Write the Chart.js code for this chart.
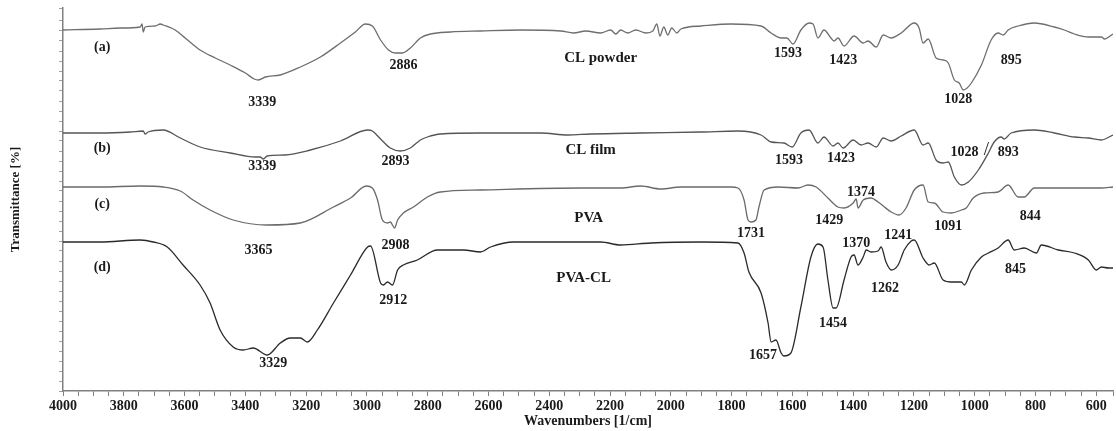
<!DOCTYPE html>
<html>
<head>
<meta charset="utf-8">
<script src="https://cdn.jsdelivr.net/npm/chart.js@4"></script>
<style>
  html, body { margin: 0; padding: 0; background: #fff; }
  #wrap { width: 1116px; height: 431px; }
</style>
</head>
<body>
<div id="wrap"><canvas id="myChart"></canvas></div>
<script>
// wavenumbers (1/cm) and transmittance (arbitrary offset units) for each spectrum
var aWn = [4000,3878,3812,3746,3740,3736,3730,3697,3680,3670,3631,3598,3549,3499,3450,3400,3371,3357,3334,3285,3219,3153,3087,3038,3005,2982,2955,2929,2906,2883,2857,2824,2791,2725,2626,2494,2362,2320,2280,2231,2198,2181,2165,2142,2115,2082,2059,2046,2036,2023,2010,1997,1980,1967,1901,1802,1703,1670,1637,1618,1598,1572,1545,1532,1516,1496,1473,1463,1450,1430,1397,1367,1351,1324,1301,1275,1242,1199,1183,1170,1153,1127,1104,1087,1067,1051,1038,1025,1011,978,946,923,906,890,857,804,738,705,672,626,583,573,545];
var aT  = [361,362,363,364,367,359,364,365,367,366,361,353,341,333,326,318,312,311,314,316,324,334,348,359,367,365,351,341,338,338,343,353,357,359,360,361,360,358,360,358,361,357,361,358,361,358,360,367,355,364,356,363,358,362,365,367,365,358,353,353,347,361,368,367,353,361,353,350,353,345,355,348,350,344,356,353,358,368,363,348,352,333,331,328,311,308,301,303,308,326,351,358,356,361,365,368,364,361,357,354,354,352,357];

var bWn = [4000,3878,3779,3736,3730,3720,3670,3614,3549,3450,3367,3351,3341,3328,3269,3186,3087,2998,2982,2955,2923,2890,2857,2824,2801,2758,2626,2428,2339,2264,2099,1901,1779,1703,1670,1628,1601,1572,1545,1516,1496,1466,1450,1433,1400,1374,1351,1324,1301,1275,1242,1199,1170,1153,1127,1104,1087,1067,1044,1021,988,955,936,913,903,880,804,738,672,626,583,545];
var bT  = [258,258,259,260,257,259,261,253,244,238,234,234,232,235,236,241,250,261,260,252,243,240,243,251,254,257,258,258,256,257,258,259,260,256,249,248,244,258,261,248,254,245,248,243,251,246,248,244,253,250,255,261,246,248,231,228,229,214,206,209,221,238,249,254,252,258,261,258,254,253,251,256];

var cWn = [4000,3878,3746,3670,3614,3572,3516,3440,3328,3219,3110,3054,3002,2982,2965,2949,2932,2923,2909,2899,2880,2847,2801,2758,2626,2296,2165,2099,2033,1967,1802,1779,1759,1746,1736,1720,1710,1693,1647,1581,1549,1522,1483,1450,1430,1400,1390,1384,1367,1341,1318,1275,1249,1226,1199,1170,1153,1133,1104,1077,1044,1028,1005,969,923,890,857,837,804,692,583,545];
var cT  = [204,204,205,204,200,191,181,171,166,168,184,193,205,203,191,171,168,169,163,171,178,184,194,199,201,203,203,205,202,204,204,203,191,171,169,171,184,201,204,203,206,204,193,184,183,188,192,183,191,193,189,179,176,183,201,206,189,188,179,178,181,183,193,198,199,206,194,194,203,203,203,204];

var dWn = [4000,3878,3746,3703,3657,3605,3549,3516,3483,3440,3407,3374,3328,3285,3252,3219,3196,3163,3110,3054,2998,2988,2955,2946,2932,2916,2899,2880,2834,2768,2682,2626,2593,2517,2231,2165,2066,1901,1779,1759,1743,1703,1680,1670,1654,1637,1628,1605,1572,1539,1516,1499,1483,1466,1456,1430,1407,1397,1384,1367,1357,1341,1318,1308,1292,1275,1252,1232,1209,1199,1170,1150,1133,1104,1077,1044,1034,1011,978,955,923,890,870,837,797,781,725,672,626,600,583,560,545];
var dT  = [149,149,151,149,144,126,106,88,61,44,41,43,36,48,53,53,49,61,88,116,144,145,108,106,109,106,121,126,131,141,141,139,144,149,149,146,148,149,148,138,119,98,68,49,51,38,35,38,84,134,147,144,111,83,83,111,134,136,126,134,141,139,140,144,129,121,126,141,150,151,133,126,128,111,109,109,106,121,134,138,143,151,141,143,138,146,141,138,131,121,124,123,123];

var xTickLabels = [4000,3800,3600,3400,3200,3000,2800,2600,2400,2200,2000,1800,1600,1400,1200,1000,800,600];

// peak labels: [wavenumber, transmittance, text, size]
var peakLabels = [
  [3871, 344, '(a)', 14], [3871, 243, '(b)', 14], [3871, 187, '(c)', 14], [3871, 124, '(d)', 14],
  [3344, 289, '3339', 14], [2880, 326, '2886', 14], [2231, 333, 'CL powder', 15],
  [1614, 338, '1593', 14], [1433, 331, '1423', 14], [1054, 292, '1028', 14], [880, 331, '895', 14],
  [3344, 225, '3339', 14], [2906, 230, '2893', 14], [2264, 241, 'CL film', 15],
  [1611, 231, '1593', 14], [1440, 233, '1423', 14], [1034, 239, '1028', 14], [890, 239, '893', 14],
  [3357, 141, '3365', 14], [2906, 146, '2908', 14], [2270, 173, 'PVA', 15],
  [1736, 158, '1731', 14], [1479, 171, '1429', 14], [1374, 199, '1374', 14], [1087, 165, '1091', 14], [817, 175, '844', 14],
  [3308, 28, '3329', 14], [2913, 91, '2912', 14], [2287, 113, 'PVA-CL', 15],
  [1697, 36, '1657', 14], [1466, 68, '1454', 14], [1390, 148, '1370', 14], [1252, 156, '1241', 14],
  [1295, 103, '1262', 14], [866, 122, '845', 14]
];

function pts(wn, t) {
  return wn.map(function (w, i) { return { x: w, y: t[i] }; });
}

var serif = "'Liberation Serif', 'Times New Roman', serif";

var labelPlugin = {
  id: 'peakLabels',
  afterDatasetsDraw: function (chart) {
    var ctx = chart.ctx, xs = chart.scales.x, ys = chart.scales.y;
    ctx.save();
    ctx.fillStyle = '#1a1a1a';
    ctx.textAlign = 'center';
    ctx.textBaseline = 'middle';
    peakLabels.forEach(function (p) {
      ctx.font = 'bold ' + p[3] + 'px ' + serif;
      ctx.fillText(p[2], xs.getPixelForValue(p[0]), ys.getPixelForValue(p[1]));
    });
    // slash between the 1028 and 893 labels of the CL film trace
    ctx.font = '19px ' + serif;
    ctx.fillText('/', xs.getPixelForValue(962), ys.getPixelForValue(241));
    ctx.restore();
  }
};

var ctx = document.getElementById('myChart').getContext('2d');
var chart = new Chart(ctx, {
  type: 'line',
  data: {
    datasets: [
      { label: 'CL powder', data: pts(aWn, aT), borderColor: '#6e6e6e' },
      { label: 'CL film', data: pts(bWn, bT), borderColor: '#555555' },
      { label: 'PVA', data: pts(cWn, cT), borderColor: '#6a6a6a' },
      { label: 'PVA-CL', data: pts(dWn, dT), borderColor: '#2a2a2a' }
    ]
  },
  options: {
    responsive: true,
    maintainAspectRatio: false,
    animation: false,
    layout: { padding: { top: 8, right: 3, left: 0, bottom: 0 } },
    elements: {
      line: { borderWidth: 1.3, cubicInterpolationMode: 'monotone', fill: false },
      point: { radius: 0 }
    },
    plugins: {
      legend: { display: false },
      tooltip: { enabled: false }
    },
    scales: {
      x: {
        type: 'linear',
        reverse: true,
        min: 545,
        max: 4000,
        border: { color: '#808080', width: 1.5 },
        grid: { drawOnChartArea: false, drawTicks: true, tickLength: 5, color: '#808080' },
        ticks: {
          stepSize: 50,
          autoSkip: false,
          maxRotation: 0,
          padding: 2,
          color: '#1a1a1a',
          font: { family: serif, size: 14, weight: 'bold' },
          callback: function (v) { return xTickLabels.indexOf(v) >= 0 ? String(v) : ''; }
        },
        title: {
          display: true,
          text: 'Wavenumbers [1/cm]',
          color: '#1a1a1a',
          font: { family: serif, size: 14, weight: 'bold' },
          padding: { top: 0, bottom: 1 }
        },
        afterFit: function (scale) { scale.height = 40; }
      },
      y: {
        min: 0,
        max: 383,
        border: { color: '#808080', width: 1.5 },
        grid: { drawOnChartArea: false, drawTicks: true, tickLength: 4, color: '#a0a0a0' },
        ticks: { display: false, stepSize: 10 },
        title: {
          display: true,
          text: 'Transmittance [%]',
          color: '#1a1a1a',
          font: { family: serif, size: 13, weight: 'bold' },
          padding: { top: 8, bottom: 0 }
        },
        afterFit: function (scale) { scale.width = 63; }
      }
    }
  },
  plugins: [labelPlugin]
});
</script>
</body>
</html>
